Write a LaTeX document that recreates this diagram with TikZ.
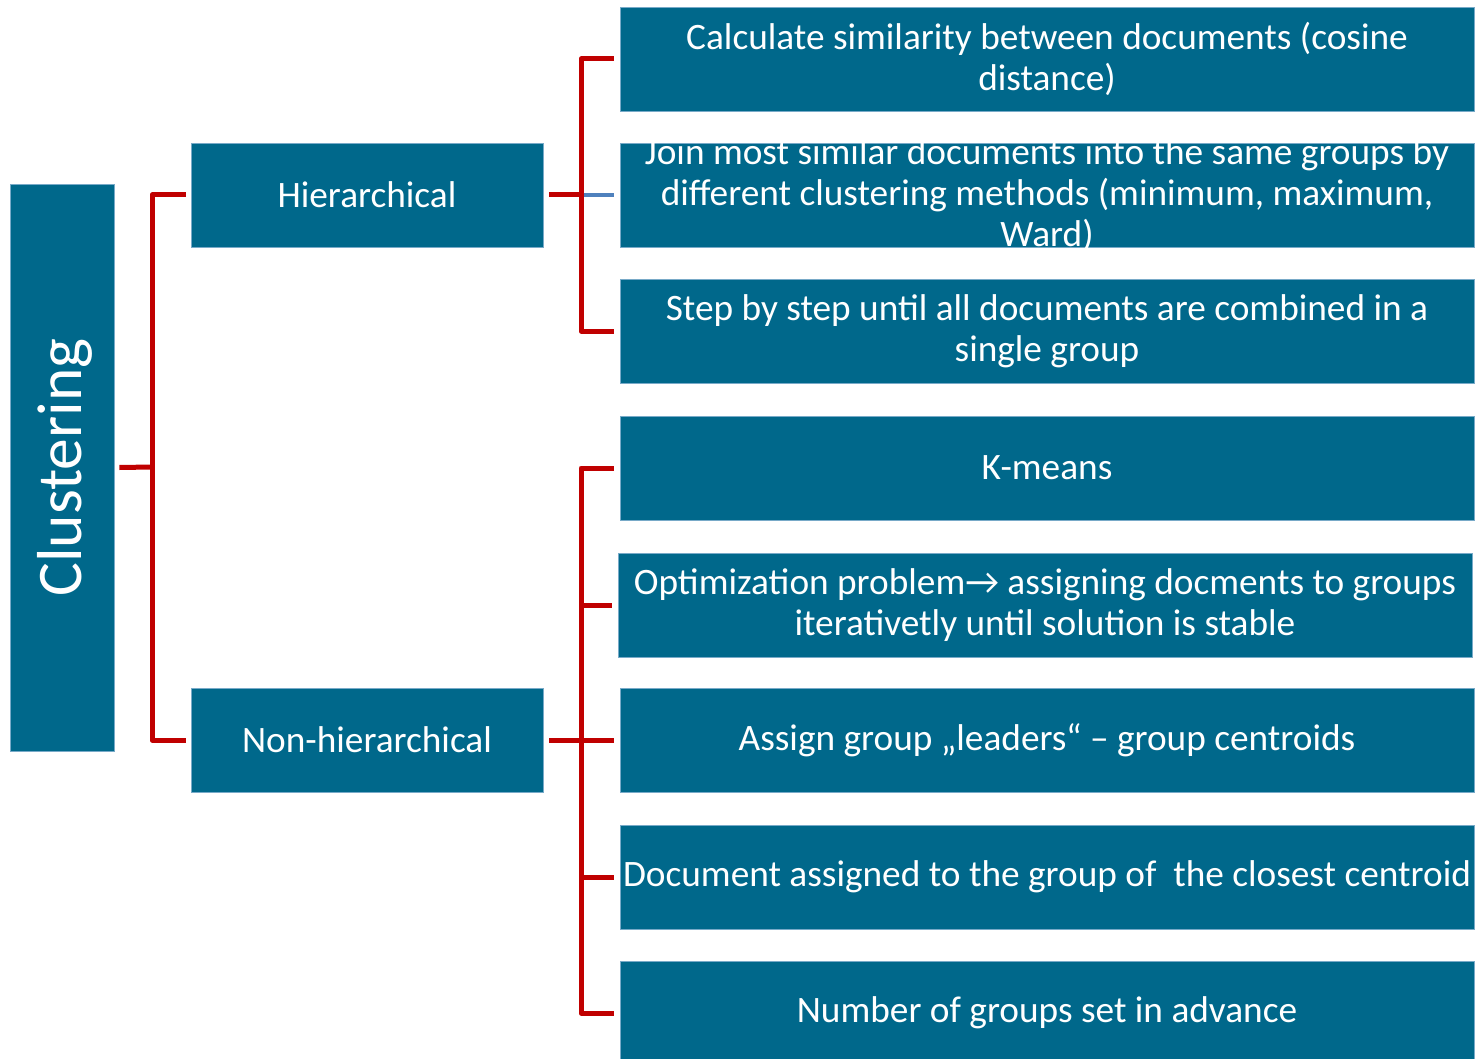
\documentclass[tikz,border=0pt]{standalone}
\usepackage{fontspec}
\setmainfont{Carlito}
\definecolor{boxblue}{RGB}{0,104,139}
\definecolor{boxedge}{RGB}{120,170,200}
\definecolor{linkred}{RGB}{192,0,0}
\definecolor{linkblue}{RGB}{79,129,189}
\begin{document}
\begin{tikzpicture}[x=1pt,y=-1pt,
  box/.style={fill=boxblue, draw=boxedge, line width=0.6pt, minimum width=854pt, minimum height=104pt, inner sep=0pt},
  lbl/.style={text=white, font=\fontsize{37.3}{41}\selectfont, align=center, inner sep=0pt},
  link/.style={draw=linkred, line width=5pt, line join=round},
  sidelink/.style={draw=linkblue, line width=4.5pt}]
\useasboundingbox (0,0) rectangle (1482,1059);

% root and first level
\node[box, minimum width=104pt, minimum height=567pt] (clu) at (62,467.5) {};
\node[lbl, rotate=90, font=\fontsize{63.5}{70}\selectfont] at ([xshift=3pt]clu.center) {Clustering};
\node[box, minimum width=352pt] (hier) at (367,195) {};
\node[lbl] at (hier.center) {Hierarchical};
\node[box, minimum width=352pt] (nonh) at (367,740) {};
\node[lbl] at (nonh.center) {Non-hierarchical};

% second level
\node[box] (r1) at (1047,59) {};
\node[lbl] at (r1.center) {Calculate similarity between documents (cosine\\distance)};
\node[box] (r2) at (1047,195) {};
\node[lbl] at (r2.center) {Join most similar documents into the same groups by\\different clustering methods (minimum, maximum,\\Ward)};
\node[box] (r3) at (1047,331) {};
\node[lbl] at (r3.center) {Step by step until all documents are combined in a\\single group};
\node[box] (r4) at (1047,468) {};
\node[lbl] at (r4.center) {K-means};
\node[box] (r5) at (1045,605) {};
\node[lbl] at (r5.center) {Optimization problem→ assigning docments to groups\\iterativetly until solution is stable};
\node[box] (r6) at (1047,740) {};
\node[lbl] at (r6.center) {Assign group „leaders“ – group centroids};
\node[box] (r7) at (1047,877) {};
\node[lbl] at (r7.center) {Document assigned to the group of\ \ the closest centroid};
\node[box] (r8) at (1047,1013) {};
\node[lbl] at (r8.center) {Number of groups set in advance};

% bracket spines
\coordinate (lspine) at (152,467);
\coordinate (tspine) at (581,195);
\coordinate (bspine) at (581,740);

% root bracket
\draw[link] ([xshift=5pt]clu.east) -- (lspine);
\draw[link] ([xshift=-5pt]hier.west) -| (lspine) |- ([xshift=-5pt]nonh.west);

% hierarchical bracket
\draw[link] ([xshift=6pt]hier.east) -- (tspine);
\draw[link] ([xshift=-6pt]r1.west) -| (tspine) |- ([xshift=-6pt]r3.west);
\draw[sidelink] ([xshift=2.5pt]tspine) -- ([xshift=-6pt]r2.west);

% non-hierarchical bracket
\draw[link] ([xshift=6pt]nonh.east) -- (bspine);
\draw[link] ([xshift=-6pt]r4.west) -| (bspine) |- ([xshift=-6pt]r8.west);
\draw[link] (r5.west -| bspine) -- ([xshift=-6pt]r5.west);
\draw[link] (bspine) -- ([xshift=-6pt]r6.west);
\draw[link] (r7.west -| bspine) -- ([xshift=-6pt]r7.west);
\end{tikzpicture}
\end{document}
